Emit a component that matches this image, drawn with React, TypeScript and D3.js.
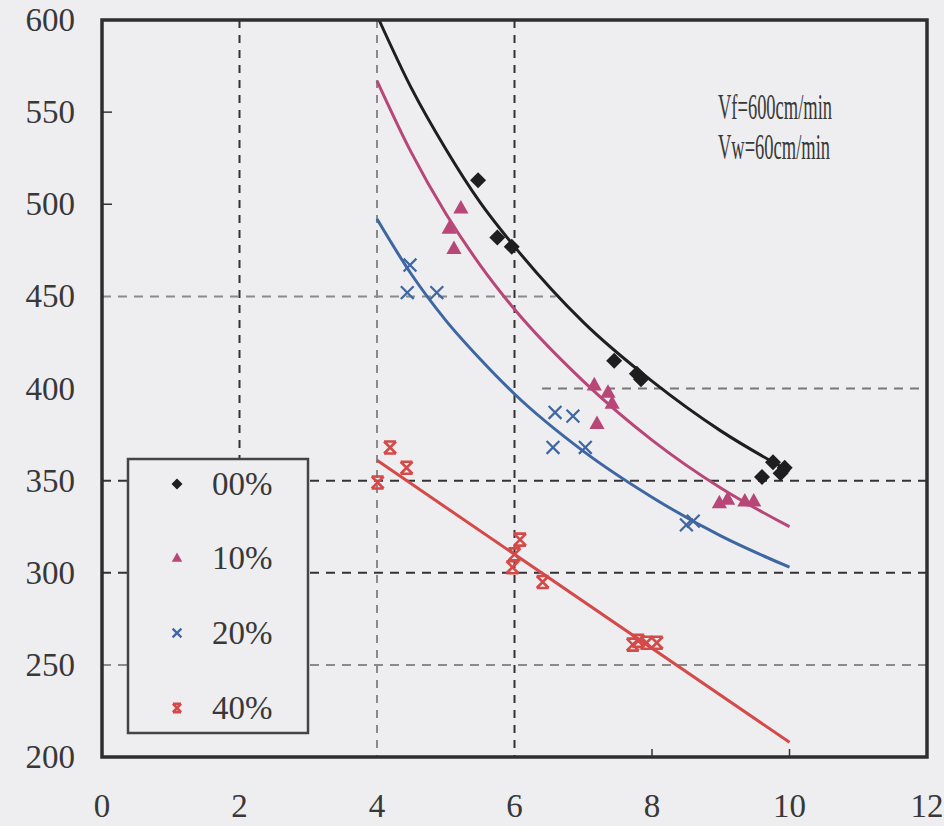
import React from "react";
import * as d3 from "d3";

const xTicks = [0, 2, 4, 6, 8, 10, 12];
const yTicks = [200, 250, 300, 350, 400, 450, 500, 550, 600];
const seriesNames = ["00%", "10%", "20%", "40%"];
const seriesColors = ["#1e1e1e", "#b84677", "#3d66a3", "#d44a48"];
const seriesMarkers = ["diamond", "triangle", "cross", "bowtie"];

const pts00: [number, number][] = [
  [5.47, 513], [5.75, 482], [5.96, 477], [7.45, 415], [7.78, 408], [7.84, 405],
  [9.6, 352], [9.76, 360], [9.93, 357], [9.87, 354],
];
const pts10: [number, number][] = [
  [5.22, 498], [5.05, 487], [5.12, 476], [7.16, 402], [7.36, 398], [7.42, 392],
  [7.2, 381], [8.98, 338], [9.1, 340], [9.35, 339], [9.48, 339],
];
const pts20: [number, number][] = [
  [4.48, 467], [4.44, 452], [4.87, 452], [6.59, 387], [6.85, 385], [6.56, 368],
  [7.03, 368], [8.5, 326], [8.6, 328],
];
const pts40: [number, number][] = [
  [4.19, 368], [4.43, 357], [4.01, 349], [6.08, 318], [6.0, 310], [5.97, 303],
  [6.41, 295], [7.72, 261], [7.8, 263], [7.92, 262], [8.07, 262],
];

const curve00: [number, number][] = [
  [4.03, 600], [4.5, 563], [5, 530], [5.5, 501], [6, 477], [7, 436], [8, 404], [9, 377], [10, 355],
];
const curve10: [number, number][] = [
  [4, 567], [4.5, 528], [5, 495], [5.5, 467], [6, 443], [7, 404], [8, 372], [9, 346], [10, 325],
];
const curve20: [number, number][] = [
  [4, 492], [4.5, 462], [5, 437], [5.5, 416], [6, 397], [7, 366], [8, 341], [9, 320], [10, 303],
];
const curve40: [number, number][] = [
  [4, 361], [10, 208],
];

const annotations = ["Vf=600cm/min", "Vw=60cm/min"];

const allPoints = [pts00, pts10, pts20, pts40];
const allCurves = [curve00, curve10, curve20, curve40];

const W = 944, H = 826;
const L = 102, R = 927, T = 20, B = 757;

const x = d3.scaleLinear().domain([0, 12]).range([L, R]);
const y = d3.scaleLinear().domain([200, 600]).range([B, T]);

function Marker({ type, cx, cy, color, s }: { type: string; cx: number; cy: number; color: string; s: number }) {
  if (type === "diamond") {
    const p = `M${cx},${cy - s} L${cx + s},${cy} L${cx},${cy + s} L${cx - s},${cy} Z`;
    return <path d={p} fill={color} />;
  }
  if (type === "triangle") {
    const p = `M${cx},${cy - s} L${cx + s * 0.95},${cy + s * 0.7} L${cx - s * 0.95},${cy + s * 0.7} Z`;
    return <path d={p} fill={color} />;
  }
  if (type === "cross") {
    const k = s * 0.8;
    const p = `M${cx - k},${cy - k} L${cx + k},${cy + k} M${cx - k},${cy + k} L${cx + k},${cy - k}`;
    return <path d={p} stroke={color} strokeWidth={2.2} fill="none" />;
  }
  const k = s * 0.75;
  const p = `M${cx - k},${cy - k} L${cx + k},${cy + k} M${cx - k},${cy + k} L${cx + k},${cy - k} M${cx - k},${cy - k} L${cx + k},${cy - k} M${cx - k},${cy + k} L${cx + k},${cy + k}`;
  return <path d={p} stroke={color} strokeWidth={2.6} fill="none" />;
}

export default function App() {
  const line = d3
    .line<[number, number]>()
    .x((d) => x(d[0]))
    .y((d) => y(d[1]))
    .curve(d3.curveMonotoneX);

  const font = "'Liberation Serif', 'DejaVu Serif', serif";
  const textColor = "#383838";
  const dark = "#333";
  const gray = "#8a8a8a";

  const vGrid = [
    { v: 2, c: dark, y0: 600, y1: 210 },
    { v: 4, c: gray, y0: 600, y1: 200 },
    { v: 6, c: dark, y0: 600, y1: 200 },
  ];
  const hGrid = [
    { v: 450, c: gray, x0: 0, x1: 6.6 },
    { v: 400, c: "#777", x0: 6.4, x1: 12 },
    { v: 350, c: dark, x0: 0, x1: 12 },
    { v: 300, c: dark, x0: 0, x1: 12 },
    { v: 250, c: gray, x0: 0, x1: 12 },
  ];

  const legX = 128, legY = 459, legW = 180, legH = 274;
  const legRowY = [484, 558, 633, 708];

  return (
    <svg width={W} height={H} style={{ position: "absolute", left: 0, top: 0 }} xmlns="http://www.w3.org/2000/svg">
      <rect x={0} y={0} width={W} height={H} fill="#eeeef1" />

      {vGrid.map((g) => (
        <line key={"v" + g.v} x1={x(g.v)} x2={x(g.v)} y1={y(g.y0)} y2={y(g.y1)} stroke={g.c} strokeWidth={2} strokeDasharray="8,7" />
      ))}
      {hGrid.map((g) => (
        <line key={"h" + g.v} x1={x(g.x0)} x2={x(g.x1)} y1={y(g.v)} y2={y(g.v)} stroke={g.c} strokeWidth={2} strokeDasharray="9,7" />
      ))}

      {[550, 500].map((v) => (
        <line key={"yt" + v} x1={L} x2={L + 10} y1={y(v)} y2={y(v)} stroke={dark} strokeWidth={1.5} />
      ))}
      {[8, 10].map((v) => (
        <line key={"xt" + v} x1={x(v)} x2={x(v)} y1={B} y2={B - 8} stroke={dark} strokeWidth={1.5} />
      ))}

      {allCurves.map((c, i) => (
        <path key={"c" + i} d={line(c) || ""} fill="none" stroke={seriesColors[i]} strokeWidth={3} />
      ))}

      {allPoints.map((pts, i) =>
        pts.map((p, j) => (
          <Marker key={`m${i}-${j}`} type={seriesMarkers[i]} cx={x(p[0])} cy={y(p[1])} color={seriesColors[i]} s={8} />
        ))
      )}

      <rect x={L} y={T} width={R - L} height={B - T} fill="none" stroke="#2e2e2e" strokeWidth={3.5} />

      <rect x={legX} y={legY} width={legW} height={legH} fill="#eeeef1" stroke="#444" strokeWidth={2.5} />
      {seriesNames.map((n, i) => (
        <g key={"leg" + i}>
          <Marker type={seriesMarkers[i]} cx={177} cy={legRowY[i]} color={seriesColors[i]} s={5.5} />
          <text x={212} y={legRowY[i] + 11} fontFamily={font} fontSize={33} fill={textColor}>
            {n}
          </text>
        </g>
      ))}

      {annotations.map((a, i) => (
        <text key={"a" + i} x={718} y={119 + i * 40} fontFamily={font} fontSize={35} fill={textColor}
          textLength={i === 0 ? 114 : 112} lengthAdjust="spacingAndGlyphs">
          {a}
        </text>
      ))}

      {yTicks.map((v) => (
        <text key={"yl" + v} x={75} y={y(v) + 11} textAnchor="end" fontFamily={font} fontSize={33} fill={textColor}>
          {v}
        </text>
      ))}
      {xTicks.map((v) => (
        <text key={"xl" + v} x={x(v)} y={817} textAnchor="middle" fontFamily={font} fontSize={33} fill={textColor}>
          {v}
        </text>
      ))}
    </svg>
  );
}
